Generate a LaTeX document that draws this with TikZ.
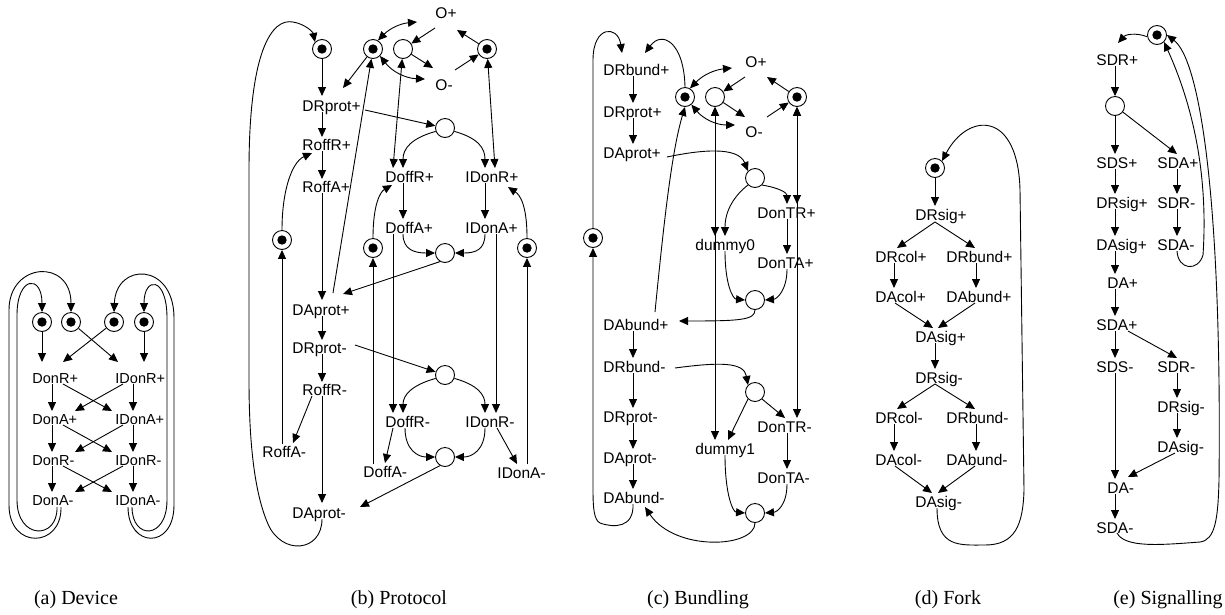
\documentclass[tikz,border=0pt]{standalone}
\usepackage{fontspec}
\setmainfont{Liberation Serif}
\newfontfamily\lblfam{Liberation Sans}
\usetikzlibrary{arrows.meta}
\begin{document}
\begin{tikzpicture}[x=1pt,y=-1pt,line width=0.9pt,
  lab/.style={font=\lblfam\fontsize{15.5}{17}\selectfont, inner sep=0pt, anchor=west,
              text height=11pt, text depth=0pt},
  laba/.style={lab, font=\lblfam\fontsize{14.5}{16}\selectfont, text height=10.4pt},
  pl/.style={circle, draw, minimum size=19pt, inner sep=0pt},
  mpl/.style={pl, path picture={\fill (path picture bounding box.center) circle (4.7pt);}},
  arr/.style={-{Triangle[length=9pt,width=8pt]}},
  darr/.style={{Triangle[length=9pt,width=8pt]}-{Triangle[length=9pt,width=8pt]}},
  captxt/.style={font=\fontsize{20}{22}\selectfont, inner sep=0pt}]
\useasboundingbox (0,0) rectangle (1225,614);

% ---------------- (a) Device ----------------
\node[mpl] (pa1) at (42,322) {};
\node[mpl] (pa2) at (71,322) {};
\node[mpl] (pa3) at (114,322) {};
\node[mpl] (pa4) at (144,322) {};
\node[laba] (aDonRP)  at (32,378)  {DonR+};
\node[laba] (aIDonRP) at (115,378) {IDonR+};
\node[laba] (aDonAP)  at (32,419)  {DonA+};
\node[laba] (aIDonAP) at (115,419) {IDonA+};
\node[laba] (aDonRM)  at (32,460)  {DonR-};
\node[laba] (aIDonRM) at (115,460) {IDonR-};
\node[laba] (aDonAM)  at (32,500)  {DonA-};
\node[laba] (aIDonAM) at (115,500) {IDonA-};
\draw[arr] (pa1) -- ([shift={(10,-16)}]aDonRP.west);
\draw[arr] (pa2) -- ([shift={(3,-16)}]aIDonRP.west);
\draw[arr] (pa3) -- ([shift={(31,-16)}]aDonRP.west);
\draw[arr] (pa4) -- ([shift={(29,-16)}]aIDonRP.west);
\foreach \u/\p/\v/\q in {aDonRP/aIDonRP/aDonAP/aIDonAP, aDonAP/aIDonAP/aDonRM/aIDonRM, aDonRM/aIDonRM/aDonAM/aIDonAM}{
  \draw[arr] ([shift={(20,6)}]\u.west) -- ([shift={(20,-8)}]\v.west);
  \draw[arr] ([shift={(31,6)}]\u.west) -- ([shift={(-3,-8)}]\q.west);
  \draw[arr] ([shift={(8,6)}]\p.west) -- ([shift={(43,-8)}]\v.west);
  \draw[arr] ([shift={(18,6)}]\p.west) -- ([shift={(18,-8)}]\q.west);
}
\draw[arr] ([shift={(29,7)}]aDonAM.west) .. controls (62,548) and (9,550) .. (9,505)
  -- (9,310) .. controls (9,262) and (71,258) .. (pa2.north);
\draw[arr] ([shift={(25,7)}]aDonAM.west) .. controls (58,540) and (17,540) .. (17,500)
  -- (17,315) .. controls (17,276) and (42,274) .. (pa1.north);
\draw[arr] ([shift={(13,7)}]aIDonAM.west) .. controls (128,548) and (174,550) .. (174,505)
  -- (174,318) .. controls (174,262) and (116,262) .. (pa3.north);
\draw[arr] ([shift={(17,7)}]aIDonAM.west) .. controls (132,540) and (167,540) .. (167,500)
  -- (167,318) .. controls (167,276) and (144,276) .. (pa4.north);

% ---------------- (b) Protocol ----------------
\node[mpl] (bA) at (322,49) {};
\node[mpl] (bB) at (373,49) {};
\node[pl]  (bC) at (403,49) {};
\node[mpl] (bD) at (487,49) {};
\node[pl]  (bE) at (445,128) {};
\node[pl]  (bF) at (445,253) {};
\node[mpl] (bP1) at (282,240) {};
\node[mpl] (bP2) at (373,248) {};
\node[mpl] (bP3) at (527,248) {};
\node[pl]  (bG) at (445,375) {};
\node[pl]  (bH) at (445,457) {};
\node[lab] (bOP) at (435,13) {O+};
\node[lab] (bOM) at (435,85) {O-};
\node[lab] (bDRprotP) at (302,106) {DRprot+};
\node[lab] (bRoffRP)  at (302,145) {RoffR+};
\node[lab] (bRoffAP)  at (302,187) {RoffA+};
\node[lab] (bDoffRP)  at (385,177) {DoffR+};
\node[lab] (bIDonRP)  at (465,177) {IDonR+};
\node[lab] (bDoffAP)  at (385,228) {DoffA+};
\node[lab] (bIDonAP)  at (465,228) {IDonA+};
\node[lab] (bDAprotP) at (292,310) {DAprot+};
\node[lab] (bDRprotM) at (292,348) {DRprot-};
\node[lab] (bRoffRM)  at (302,390) {RoffR-};
\node[lab] (bRoffAM)  at (262,452) {RoffA-};
\node[lab] (bDoffRM)  at (385,422) {DoffR-};
\node[lab] (bIDonRM)  at (465,422) {IDonR-};
\node[lab] (bDoffAM)  at (363,472) {DoffA-};
\node[lab] (bIDonAM)  at (497,473) {IDonA-};
\node[lab] (bDAprotM) at (292,513) {DAprot-};
\draw[arr] (bA) -- ([shift={(20,-10)}]bDRprotP.west);
\draw[arr] (bB) -- ([shift={(41,-18)}]bDRprotP.west);
\draw[darr] (bB.60) to[bend left=20] ([shift={(-18,9)}]bOP.west);
\draw[arr] ([shift={(0,15)}]bOP.west) -- (bC);
\draw[arr] (bD) -- ([shift={(22,17)}]bOP.west);
\draw[arr] (bC) -- ([shift={(-2,-17)}]bOM.west);
\draw[arr] ([shift={(20,-15)}]bOM.west) -- (bD);
\draw[darr] (bB.-45) to[bend right=25] ([shift={(-10,-6)}]bOM.west);
\draw[arr] ([shift={(41,-17)}]bDAprotP.west) -- (bB);
\draw[arr] ([shift={(20,6)}]bDRprotP.west) -- ([shift={(20,-8)}]bRoffRP.west);
\draw[arr] ([shift={(63,4)}]bDRprotP.west) -- (bE);
\draw[arr] ([shift={(20,6)}]bRoffRP.west) -- ([shift={(20,-8)}]bRoffAP.west);
\draw[arr] ([shift={(20,6)}]bRoffAP.west) -- ([shift={(30,-10)}]bDAprotP.west);
\draw[arr] (bP1.north) .. controls (282,190) and (292,162) .. ([shift={(10,8)}]bRoffRP.west);
\draw[arr] ([shift={(20,-8)}]bRoffAM.west) -- (bP1);
\draw[darr] (bC) -- ([shift={(8,-9)}]bDoffRP.west);
\draw[arr] (bE.200) .. controls (412,138) and (403,148) .. ([shift={(18,-9)}]bDoffRP.west);
\draw[arr] (bE.-20) .. controls (478,138) and (485,148) .. ([shift={(20,-9)}]bIDonRP.west);
\draw[darr] (bD) -- ([shift={(30,-9)}]bIDonRP.west);
\draw[arr] (bP2.north) .. controls (373,205) and (380,192) .. ([shift={(7,8)}]bDoffRP.west);
\draw[arr] (bP3.north) .. controls (527,205) and (520,195) .. ([shift={(43,10)}]bIDonRP.west);
\draw[arr] ([shift={(18,6)}]bDoffRP.west) -- ([shift={(18,-9)}]bDoffAP.west);
\draw[arr] ([shift={(20,6)}]bIDonRP.west) -- ([shift={(20,-9)}]bIDonAP.west);
\draw[arr] ([shift={(18,6)}]bDoffAP.west) .. controls (403,250) and (415,253) .. (bF.west);
\draw[arr] ([shift={(20,6)}]bIDonAP.west) .. controls (485,250) and (475,253) .. (bF.east);
\draw[arr] (bF.240) -- ([shift={(51,-16)}]bDAprotP.west);
\draw[arr] ([shift={(8,6)}]bDoffAP.west) -- ([shift={(8,-9)}]bDoffRM.west);
\draw[arr] ([shift={(31,6)}]bIDonAP.west) -- ([shift={(31,-9)}]bIDonRM.west);
\draw[arr] ([shift={(30,6)}]bDAprotP.west) -- ([shift={(30,-8)}]bDRprotM.west);
\draw[arr] ([shift={(63,-3)}]bDRprotM.west) -- (bG);
\draw[arr] ([shift={(30,6)}]bDRprotM.west) -- ([shift={(20,-8)}]bRoffRM.west);
\draw[arr] ([shift={(10,6)}]bRoffRM.west) -- ([shift={(31,-9)}]bRoffAM.west);
\draw[arr] ([shift={(20,6)}]bRoffRM.west) -- ([shift={(30,-10)}]bDAprotM.west);
\draw[arr] (bG.200) .. controls (412,385) and (403,395) .. ([shift={(18,-9)}]bDoffRM.west);
\draw[arr] (bG.-20) .. controls (478,385) and (485,395) .. ([shift={(20,-9)}]bIDonRM.west);
\draw[arr] ([shift={(8,6)}]bDoffRM.west) -- ([shift={(22,-9)}]bDoffAM.west);
\draw[arr] ([shift={(20,6)}]bDoffRM.west) .. controls (405,450) and (418,457) .. (bH.west);
\draw[arr] ([shift={(20,6)}]bIDonRM.west) .. controls (485,450) and (472,457) .. (bH.east);
\draw[arr] ([shift={(32,6)}]bIDonRM.west) -- ([shift={(20,-9)}]bIDonAM.west);
\draw[arr] ([shift={(10,-8)}]bDoffAM.west) -- (bP2);
\draw[arr] ([shift={(30,-9)}]bIDonAM.west) -- (bP3);
\draw[arr] (bH.240) -- ([shift={(68,-6)}]bDAprotM.west);
\draw[arr] ([shift={(30,6)}]bDAprotM.west) .. controls (322,552) and (282,556) .. (268,524)
  .. controls (254,492) and (249,440) .. (249,380) -- (249,170)
  .. controls (249,50) and (272,18) .. (293,22) .. controls (305,24) and (313,32) .. (bA.north west);

% ---------------- (c) Bundling ----------------
\node[mpl] (cQ) at (685,97) {};
\node[pl]  (cR) at (715,97) {};
\node[mpl] (cS) at (797,97) {};
\node[mpl] (cT) at (593,238) {};
\node[pl]  (cU) at (755,178) {};
\node[pl]  (cV) at (755,300) {};
\node[pl]  (cX) at (755,392) {};
\node[pl]  (cW) at (755,513) {};
\node[lab] (cOP) at (745,62) {O+};
\node[lab] (cOM) at (745,132) {O-};
\node[lab] (cDRbundP) at (603,70)  {DRbund+};
\node[lab] (cDRprotP) at (603,112) {DRprot+};
\node[lab] (cDAprotP) at (603,153) {DAprot+};
\node[lab] (cDonTRP)  at (757,213) {DonTR+};
\node[lab] (cDummyA)  at (695,245) {dummy0};
\node[lab] (cDonTAP)  at (757,263) {DonTA+};
\node[lab] (cDAbundP) at (603,325) {DAbund+};
\node[lab] (cDRbundM) at (603,367) {DRbund-};
\node[lab] (cDRprotM) at (603,417) {DRprot-};
\node[lab] (cDonTRM)  at (757,427) {DonTR-};
\node[lab] (cDummyB)  at (695,449) {dummy1};
\node[lab] (cDAprotM) at (603,458) {DAprot-};
\node[lab] (cDonTAM)  at (757,478) {DonTA-};
\node[lab] (cDAbundM) at (603,498) {DAbund-};
\draw[darr] (cQ.60) to[bend left=20] ([shift={(-13,6)}]cOP.west);
\draw[arr] ([shift={(0,15)}]cOP.west) -- (cR);
\draw[arr] (cS) -- ([shift={(22,15)}]cOP.west);
\draw[arr] (cR) -- ([shift={(0,-15)}]cOM.west);
\draw[arr] ([shift={(22,-15)}]cOM.west) -- (cS);
\draw[darr] (cQ.-50) to[bend right=25] ([shift={(-10,-7)}]cOM.west);
\draw[arr] (cQ.north) .. controls (684,42) and (662,30) .. ([shift={(42,-17)}]cDRbundP.west);
\draw[arr] (cT.north) -- (593,60) .. controls (593,25) and (618,25) .. ([shift={(19,-17)}]cDRbundP.west);
\draw[arr] ([shift={(30,6)}]cDAbundM.west) .. controls (634,528) and (614,528) .. (600,523)
  .. controls (594,520) and (593,508) .. (593,490) -- (cT.south);
\draw[arr] ([shift={(30,6)}]cDRbundP.west) -- ([shift={(30,-9)}]cDRprotP.west);
\draw[arr] ([shift={(30,6)}]cDRprotP.west) -- ([shift={(30,-9)}]cDAprotP.west);
\draw[arr] ([shift={(64,4)}]cDAprotP.west) .. controls (700,150) and (738,146) .. (cU.north west);
\draw[arr] (cU.south west) .. controls (735,195) and (725,210) .. ([shift={(30,-9)}]cDummyA.west);
\draw[arr] (cU.south east) .. controls (780,188) and (787,193) .. ([shift={(30,-9)}]cDonTRP.west);
\draw[darr] (cR) -- ([shift={(20,-9)}]cDummyA.west);
\draw[darr] (cR) -- ([shift={(20,-9)}]cDummyB.west);
\draw[darr] (cS) -- ([shift={(40,-9)}]cDonTRP.west);
\draw[darr] (cS) -- ([shift={(40,-9)}]cDonTRM.west);
\draw[arr] ([shift={(30,6)}]cDonTRP.west) -- ([shift={(30,-9)}]cDonTAP.west);
\draw[arr] ([shift={(30,6)}]cDummyA.west) .. controls (725,285) and (733,299) .. (cV.west);
\draw[arr] ([shift={(30,6)}]cDonTAP.west) .. controls (787,290) and (777,299) .. (cV.east);
\draw[arr] (cV.south) .. controls (755,320) and (740,321) .. ([shift={(76,-4)}]cDAbundP.west);
\draw[arr] ([shift={(52,-13)}]cDAbundP.west) .. controls (664,220) and (672,150) .. (cQ.south);
\draw[arr] ([shift={(30,6)}]cDAbundP.west) -- ([shift={(30,-9)}]cDRbundM.west);
\draw[arr] ([shift={(72,1)}]cDRbundM.west) .. controls (720,362) and (744,362) .. (cX.north west);
\draw[arr] (cX.south west) -- ([shift={(33,-9)}]cDummyB.west);
\draw[arr] (cX.south east) -- ([shift={(28,-9)}]cDonTRM.west);
\draw[arr] ([shift={(30,6)}]cDRbundM.west) -- ([shift={(30,-9)}]cDRprotM.west);
\draw[arr] ([shift={(30,6)}]cDRprotM.west) -- ([shift={(30,-9)}]cDAprotM.west);
\draw[arr] ([shift={(30,6)}]cDAprotM.west) -- ([shift={(30,-9)}]cDAbundM.west);
\draw[arr] ([shift={(30,6)}]cDonTRM.west) -- ([shift={(30,-9)}]cDonTAM.west);
\draw[arr] ([shift={(30,6)}]cDummyB.west) .. controls (725,495) and (733,512) .. (cW.west);
\draw[arr] ([shift={(30,6)}]cDonTAM.west) .. controls (787,505) and (777,512) .. (cW.east);
\draw[arr] (cW.south) .. controls (755,548) and (675,552) .. ([shift={(42,9)}]cDAbundM.west);

% ---------------- (d) Fork ----------------
\node[mpl] (dX) at (935,168) {};
\node[lab] (dDRsigP)  at (915,215) {DRsig+};
\node[lab] (dDRcolP)  at (875,257) {DRcol+};
\node[lab] (dDRbundP) at (946,257) {DRbund+};
\node[lab] (dDAcolP)  at (875,297) {DAcol+};
\node[lab] (dDAbundP) at (946,297) {DAbund+};
\node[lab] (dDAsigP)  at (915,337) {DAsig+};
\node[lab] (dDRsigM)  at (915,378) {DRsig-};
\node[lab] (dDRcolM)  at (875,418) {DRcol-};
\node[lab] (dDRbundM) at (946,418) {DRbund-};
\node[lab] (dDAcolM)  at (875,460) {DAcol-};
\node[lab] (dDAbundM) at (946,460) {DAbund-};
\node[lab] (dDAsigM)  at (915,502) {DAsig-};
\draw[arr] (dX) -- ([shift={(20,-9)}]dDRsigP.west);
\draw[arr] ([shift={(20,7)}]dDRsigP.west) -- ([shift={(22,-9)}]dDRcolP.west);
\draw[arr] ([shift={(20,7)}]dDRsigP.west) -- ([shift={(29,-9)}]dDRbundP.west);
\draw[arr] ([shift={(19,6)}]dDRcolP.west) -- ([shift={(19,-9)}]dDAcolP.west);
\draw[arr] ([shift={(30,6)}]dDRbundP.west) -- ([shift={(30,-9)}]dDAbundP.west);
\draw[arr] ([shift={(20,6)}]dDAcolP.west) -- ([shift={(18,-9)}]dDAsigP.west);
\draw[arr] ([shift={(29,6)}]dDAbundP.west) -- ([shift={(23,-9)}]dDAsigP.west);
\draw[arr] ([shift={(20,6)}]dDAsigP.west) -- ([shift={(20,-9)}]dDRsigM.west);
\draw[arr] ([shift={(20,6)}]dDRsigM.west) -- ([shift={(22,-9)}]dDRcolM.west);
\draw[arr] ([shift={(20,6)}]dDRsigM.west) -- ([shift={(29,-9)}]dDRbundM.west);
\draw[arr] ([shift={(19,6)}]dDRcolM.west) -- ([shift={(19,-9)}]dDAcolM.west);
\draw[arr] ([shift={(30,6)}]dDRbundM.west) -- ([shift={(30,-9)}]dDAbundM.west);
\draw[arr] ([shift={(20,6)}]dDAcolM.west) -- ([shift={(17,-9)}]dDAsigM.west);
\draw[arr] ([shift={(29,6)}]dDAbundM.west) -- ([shift={(23,-9)}]dDAsigM.west);
\draw[arr] ([shift={(22,6)}]dDAsigM.west) .. controls (937,548) and (960,545) .. (985,545)
  .. controls (1015,545) and (1023,525) .. (1024,490) -- (1020,190)
  .. controls (1018,110) and (968,112) .. (dX.north east);

% ---------------- (e) Signalling ----------------
\node[mpl] (eY) at (1157,35) {};
\node[pl]  (eZ) at (1115,106) {};
\node[lab] (eSDRP)   at (1096,60)  {SDR+};
\node[lab] (eSDSP)   at (1096,163) {SDS+};
\node[lab] (eSDAPa)  at (1157,163) {SDA+};
\node[lab] (eDRsigP) at (1096,203) {DRsig+};
\node[lab] (eSDRMa)  at (1157,203) {SDR-};
\node[lab] (eDAsigP) at (1096,245) {DAsig+};
\node[lab] (eSDAMa)  at (1157,245) {SDA-};
\node[lab] (eDAP)    at (1107,283) {DA+};
\node[lab] (eSDAPb)  at (1096,325) {SDA+};
\node[lab] (eSDSM)   at (1096,367) {SDS-};
\node[lab] (eSDRMb)  at (1157,367) {SDR-};
\node[lab] (eDRsigM) at (1157,407) {DRsig-};
\node[lab] (eDAsigM) at (1157,447) {DAsig-};
\node[lab] (eDAM)    at (1107,488) {DA-};
\node[lab] (eSDAMb)  at (1096,528) {SDA-};
\draw[arr] (eY.190) .. controls (1135,32) and (1125,35) .. ([shift={(22,-17)}]eSDRP.west);
\draw[arr] ([shift={(19,6)}]eSDRP.west) -- (eZ);
\draw[arr] (eZ) -- ([shift={(19,-9)}]eSDSP.west);
\draw[arr] (eZ) -- ([shift={(20,-9)}]eSDAPa.west);
\draw[arr] ([shift={(19,6)}]eSDSP.west) -- ([shift={(19,-9)}]eDRsigP.west);
\draw[arr] ([shift={(20,6)}]eSDAPa.west) -- ([shift={(20,-9)}]eSDRMa.west);
\draw[arr] ([shift={(19,6)}]eDRsigP.west) -- ([shift={(19,-9)}]eDAsigP.west);
\draw[arr] ([shift={(20,6)}]eSDRMa.west) -- ([shift={(20,-9)}]eSDAMa.west);
\draw[arr] ([shift={(19,6)}]eDAsigP.west) -- ([shift={(8,-9)}]eDAP.west);
\draw[arr] ([shift={(8,6)}]eDAP.west) -- ([shift={(19,-9)}]eSDAPb.west);
\draw[arr] ([shift={(19,6)}]eSDAPb.west) -- ([shift={(19,-9)}]eSDSM.west);
\draw[arr] ([shift={(32,6)}]eSDAPb.west) -- ([shift={(20,-9)}]eSDRMb.west);
\draw[arr] ([shift={(20,6)}]eSDRMb.west) -- ([shift={(20,-9)}]eDRsigM.west);
\draw[arr] ([shift={(20,6)}]eDRsigM.west) -- ([shift={(20,-9)}]eDAsigM.west);
\draw[arr] ([shift={(19,6)}]eSDSM.west) -- ([shift={(8,-9)}]eDAM.west);
\draw[arr] ([shift={(18,6)}]eDAsigM.west) -- ([shift={(21,-11)}]eDAM.west);
\draw[arr] ([shift={(8,6)}]eDAM.west) -- ([shift={(19,-9)}]eSDAMb.west);
\draw[arr] ([shift={(20,6)}]eSDAMa.west) .. controls (1178,270) and (1198,272) .. (1203,255)
  .. controls (1208,180) and (1195,110) .. (eY.south east);
\draw[arr] ([shift={(21,5)}]eSDAMb.west) .. controls (1125,548) and (1160,545) .. (1200,542)
  .. controls (1215,540) and (1218,520) .. (1219,480)
  .. controls (1222,200) and (1200,60) .. (eY.east);

% ---------------- captions ----------------
\node[captxt] (capA) at (76,600)   {(a) Device};
\node[captxt] (capB) at (399,600)  {(b) Protocol};
\node[captxt] (capC) at (698,600)  {(c) Bundling};
\node[captxt] (capD) at (948,600)  {(d) Fork};
\node[captxt] (capE) at (1168,600) {(e) Signalling};
\end{tikzpicture}
\end{document}
